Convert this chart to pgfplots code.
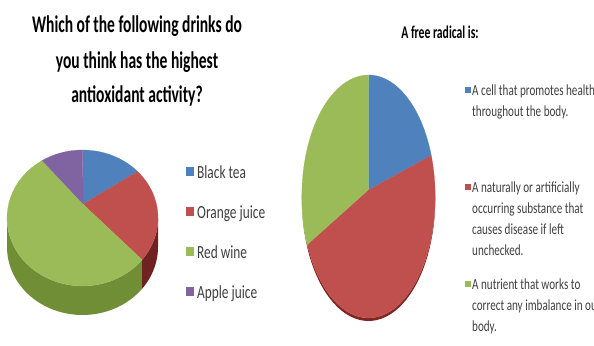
\documentclass[border=0pt]{standalone}
\usepackage{pgfplots}
\pgfplotsset{compat=1.18}
\usepackage{pgfplotstable}
\usepackage{fontspec}
\setmainfont{Carlito}
\newfontfamily\titlefont{Carlito}[FakeStretch=0.65]
\newfontfamily\legfont{Carlito}[FakeStretch=0.72]
\definecolor{cBlue}{HTML}{4F81BD}
\definecolor{cRed}{HTML}{C0504D}
\definecolor{cGreen}{HTML}{9BBB59}
\definecolor{cPurple}{HTML}{8064A2}
\definecolor{gwM}{HTML}{6F8E36}
\definecolor{rwL}{HTML}{6E2322}
\definecolor{rim}{HTML}{7F2624}
\definecolor{grim}{HTML}{6E8A35}
\definecolor{txt}{HTML}{3F3F3F}

% share of answers (percent)
\pgfplotstableread{
value
13
22.5
55.5
9
}\drinks
\pgfplotstableread{
value
19.5
49
31.5
}\radical

\newcommand\getval[3]{\pgfplotstablegetelem{#2}{value}\of#1\xdef#3{\pgfplotsretval}}
\getval\drinks{0}\dA
\getval\drinks{1}\dB
\getval\drinks{2}\dC
\getval\drinks{3}\dD
\getval\radical{0}\rA
\getval\radical{1}\rB
\getval\radical{2}\rC
\pgfmathsetmacro\La{90}
\pgfmathsetmacro\Lb{\La-3.6*\dA}
\pgfmathsetmacro\Lc{\Lb-3.6*\dB}
\pgfmathsetmacro\Ld{\Lc-3.6*\dC}
\pgfmathsetmacro\Le{\Ld-3.6*\dD}
\pgfmathsetmacro\Ra{90}
\pgfmathsetmacro\Rb{\Ra-3.6*\rA}
\pgfmathsetmacro\Rc{\Rb-3.6*\rB}
\pgfmathsetmacro\Rd{\Rc-3.6*\rC}

% slice: arc from angle #2 to #3 (40 steps), then the apex; fill closes the path
\newcommand\lslice[3]{\addplot[#1, domain=0:41, samples=42, variable=\t]
 ({\t>40.5 ? 83 : 82.5+75.5*cos(#2+((#3)-(#2))*\t/40)},
  {\t>40.5 ? 142 : 128+68*sin(#2+((#3)-(#2))*\t/40)});}
\newcommand\lwall[3]{\addplot[#1, forget plot, domain=0:81, samples=82, variable=\t]
 ({82.5+75.5*cos(\t<40.5 ? #2+((#3)-(#2))*\t/40 : #3-((#3)-(#2))*(\t-41)/40)},
  {(\t<40.5 ? 128 : 99)+68*sin(\t<40.5 ? #2+((#3)-(#2))*\t/40 : #3-((#3)-(#2))*(\t-41)/40)});}
\newcommand\rslice[3]{\addplot[#1, domain=0:41, samples=42, variable=\t]
 ({\t>40.5 ? 368.3 : 368.5+66.7*cos(#2+((#3)-(#2))*\t/40)},
  {\t>40.5 ? 156 : 149.5+121.5*sin(#2+((#3)-(#2))*\t/40)});}
\newcommand\rwall[3]{\addplot[#1, forget plot, domain=0:81, samples=82, variable=\t]
 ({368.5+66.7*cos(\t<40.5 ? #2+((#3)-(#2))*\t/40 : #3-((#3)-(#2))*(\t-41)/40)},
  {(\t<40.5 ? 149.5 : 146.5)+121.5*sin(\t<40.5 ? #2+((#3)-(#2))*\t/40 : #3-((#3)-(#2))*(\t-41)/40)});}

\newcommand\lentry[1]{\rule[-26bp]{0pt}{40bp}#1}
\newcommand\rentry[1]{\rule[-85bp]{0pt}{97bp}\smash{\parbox[t]{200bp}{\raggedright\legfont\fontsize{15.5}{21}\selectfont #1}}}

\pgfplotsset{base/.style={at={(0,0)}, anchor=south west, width=594bp, height=346bp,
  scale only axis, xmin=0, xmax=594, ymin=0, ymax=346, hide axis, clip=false,
  legend cell align=left}}

\begin{document}
\begin{tikzpicture}
\useasboundingbox (0,0) rectangle (594bp,346bp);
% ---------------- left 3D pie ----------------
\begin{axis}[base,
  legend style={at={(0.3131,0.526)}, anchor=north west, draw=none, fill=none,
    inner sep=0pt, outer sep=0pt,
    nodes={inner sep=0pt, outer sep=0pt, text depth=, text=txt},
    cells={anchor=base west},
    column sep=4bp, row sep=0pt, font=\legfont\fontsize{18.6}{18.6}\selectfont},
  legend image code/.code={\path[#1] (0bp,3bp) rectangle (7bp,11bp);}]
\lwall{fill=gwM, draw=none}{-180}{\Lc}
\lwall{fill=rwL, draw=none}{\Lc}{0}
\lslice{fill=cBlue, draw=cBlue, line width=0.2pt}{\La}{\Lb}
\addlegendentry{\lentry{Black tea}}
\lslice{fill=cRed, draw=cRed, line width=0.2pt}{\Lb}{\Lc}
\addlegendentry{\lentry{Orange juice}}
\lslice{fill=cGreen, draw=cGreen, line width=0.2pt}{\Lc}{\Ld}
\addlegendentry{\lentry{Red wine}}
\lslice{fill=cPurple, draw=cPurple, line width=0.2pt}{\Ld}{\Le}
\addlegendentry{\lentry{Apple juice}}
\node[anchor=base, font=\titlefont\bfseries\fontsize{24}{24}\selectfont, text=black]
  at (axis cs:137,313) {Which of the following drinks do};
\node[anchor=base, font=\titlefont\bfseries\fontsize{24}{24}\selectfont, text=black]
  at (axis cs:137,277.5) {you think has the highest};
\node[anchor=base, font=\titlefont\bfseries\fontsize{24}{24}\selectfont, text=black]
  at (axis cs:137,243) {antioxidant activity?};
\end{axis}
% ---------------- right pie ----------------
\begin{axis}[base,
  legend style={at={(0.7828,0.7587)}, anchor=north west, draw=none, fill=none,
    inner sep=0pt, outer sep=0pt,
    nodes={inner sep=0pt, outer sep=0pt, text depth=, text=txt},
    cells={anchor=base west},
    column sep=2bp, row sep=0pt},
  legend image code/.code={\path[#1] (0bp,3.5bp) rectangle (5bp,8.5bp);}]
\rwall{fill=grim, draw=none}{-180}{\Rc}
\rwall{fill=rim, draw=none}{\Rc}{0}
\rslice{fill=cBlue, draw=cBlue, line width=0.2pt}{\Ra}{\Rb}
\addlegendentry{\rentry{A cell that promotes health\\throughout the body.}}
\rslice{fill=cRed, draw=cRed, line width=0.2pt}{\Rb}{\Rc}
\addlegendentry{\rentry{A naturally or artificially\\occurring substance that\\causes disease if left\\unchecked.}}
\rslice{fill=cGreen, draw=cGreen, line width=0.2pt}{\Rc}{\Rd}
\addlegendentry{\rentry{A nutrient that works to\\correct any imbalance in our\\body.}}
\node[anchor=base, font=\titlefont\bfseries\fontsize{18}{18}\selectfont, text=black]
  at (axis cs:440,307) {A free radical is:};
\end{axis}
\end{tikzpicture}
\end{document}
